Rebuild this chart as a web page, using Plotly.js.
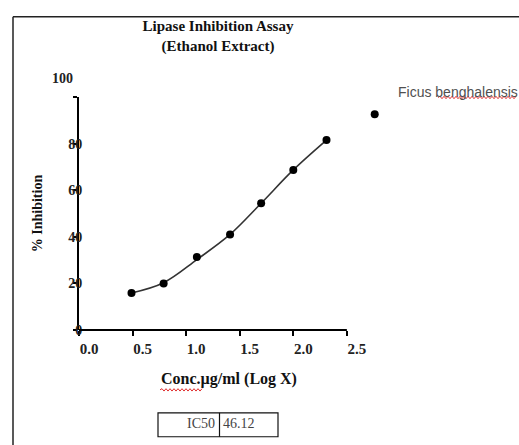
<!DOCTYPE html>
<html>
<head>
<meta charset="utf-8">
<script src="https://cdn.plot.ly/plotly-3.0.1.min.js"></script>
<style>html,body{margin:0;padding:0;background:#fff;}#chart{width:519px;height:445px;}</style>
</head>
<body>
<div id="chart"></div>
<script>
// Data
var logConc = [0.49, 0.79, 1.10, 1.41, 1.70, 2.00, 2.31];
var inhibition = [15.9, 20.0, 31.3, 41.0, 54.4, 68.7, 81.5];
// fitted curve (passes just below the 3rd point)
var curveX = [0.49, 0.79, 1.10, 1.41, 1.70, 2.00, 2.31];
var curveY = [15.9, 20.3, 30.2, 41.0, 54.4, 68.7, 81.5];
var extraX = [2.76];
var extraY = [92.6];
var xTickVals = [0, 0.5, 1.0, 1.5, 2.0, 2.5];
var xTickText = ["0.0", "0.5", "1.0", "1.5", "2.0", "2.5"];
var yTickVals = [0, 20, 40, 60, 80, 100];
var yTickText = ["0", "20", "40", "60", "80", ""];
var seriesName = "Ficus benghalensis";
var ic50Label = "IC50";
var ic50Value = "46.12";

var W = 519, H = 445;
var L = 79, R = 140, T = 96.5, B = 115;
var pw = W - L - R, ph = H - T - B;
function px(x) { return (x - L) / pw; }
function py(y) { return (H - B - y) / ph; }

function wavy(x0, x1, y) {
  var d = "M" + px(x0) + "," + py(y);
  var up = true;
  for (var x = x0 + 2; x <= x1; x += 2) {
    d += " L" + px(x) + "," + py(y + (up ? -1.2 : 1.2));
    up = !up;
  }
  return d;
}

var serif = "Liberation Serif, Times New Roman, serif";

var traces = [
  {
    x: curveX, y: curveY, type: "scatter", mode: "lines",
    name: "fit",
    line: {shape: "spline", smoothing: 1, color: "#333", width: 1.6},
    showlegend: false, cliponaxis: false, hoverinfo: "skip"
  },
  {
    x: logConc, y: inhibition, type: "scatter", mode: "markers",
    name: seriesName,
    marker: {symbol: "circle", size: 8, color: "#000"},
    showlegend: false, cliponaxis: false
  },
  {
    x: extraX, y: extraY, type: "scatter", mode: "markers",
    name: seriesName,
    marker: {symbol: "circle", size: 8, color: "#000"},
    showlegend: false, cliponaxis: false
  }
];

var layout = {
  width: W, height: H,
  margin: {l: L, r: R, t: T, b: B},
  paper_bgcolor: "#fff", plot_bgcolor: "#fff",
  showlegend: false,
  title: {
    text: "<b>Lipase Inhibition Assay<br>(Ethanol Extract)</b>",
    font: {family: serif, size: 15, color: "#111"},
    xref: "container", yref: "container",
    x: 218 / W, y: 1 - 31 / H, xanchor: "center", yanchor: "middle"
  },
  xaxis: {
    range: [0, 2.8],
    tickvals: xTickVals, ticktext: xTickText,
    ticks: "outside", ticklen: 5, tickwidth: 2, tickcolor: "#000",
    showline: false,
    showgrid: false, zeroline: false,
    ticklabelshift: 10,
    tickfont: {family: serif, size: 15, color: "#222", weight: "bold"},
    title: {text: "<b>Conc.µg/ml (Log X)</b>", font: {family: serif, size: 16, color: "#111"}, standoff: 16}
  },
  yaxis: {
    range: [0, 100],
    tickvals: yTickVals, ticktext: yTickText,
    ticks: "outside", ticklen: 4, tickwidth: 2, tickcolor: "#000",
    showline: true, linecolor: "#000", linewidth: 2,
    showgrid: false, zeroline: false,
    ticklabelstandoff: -12,
    tickfont: {family: serif, size: 14, color: "#222", weight: "bold"},
    title: {text: "<b>% Inhibition</b>", font: {family: serif, size: 14, color: "#111"}, standoff: 22}
  },
  shapes: [
    {type: "line", xref: "x", yref: "paper", x0: 0, x1: 2.5, y0: 0, y1: 0, line: {color: "#000", width: 2}},
    {type: "line", xref: "paper", yref: "paper", x0: px(13), x1: px(13), y0: py(16), y1: py(446), line: {color: "#222", width: 1.5}},
    {type: "line", xref: "paper", yref: "paper", x0: px(13), x1: px(520), y0: py(16), y1: py(16), line: {color: "#222", width: 1.5}},
    {type: "rect", xref: "paper", yref: "paper", x0: px(158), x1: px(278), y0: py(413), y1: py(437), line: {color: "#111", width: 1.2}},
    {type: "line", xref: "paper", yref: "paper", x0: px(219.5), x1: px(219.5), y0: py(413), y1: py(437), line: {color: "#111", width: 1.2}},
    {type: "path", xref: "paper", yref: "paper", path: wavy(160, 202, 390), line: {color: "#e03030", width: 1}},
    {type: "path", xref: "paper", yref: "paper", path: wavy(438, 517, 97), line: {color: "#e03030", width: 1}}
  ],
  annotations: [
    {text: "<b>100</b>", xref: "paper", yref: "paper", x: px(62), y: py(78), xanchor: "center", yanchor: "middle", showarrow: false, font: {family: serif, size: 14, color: "#222"}},
    {text: seriesName, xref: "paper", yref: "paper", x: px(396), y: py(91), xanchor: "left", yanchor: "middle", showarrow: false, font: {family: "Liberation Sans, Arial, sans-serif", size: 14, color: "#505050"}},
    {text: ic50Label, xref: "paper", yref: "paper", x: px(217), y: py(424), xanchor: "right", yanchor: "middle", showarrow: false, font: {family: serif, size: 14, color: "#444"}},
    {text: ic50Value, xref: "paper", yref: "paper", x: px(221), y: py(424), xanchor: "left", yanchor: "middle", showarrow: false, font: {family: serif, size: 14, color: "#444"}}
  ]
};

Plotly.newPlot("chart", traces, layout, {staticPlot: true, displayModeBar: false});
</script>
</body>
</html>
